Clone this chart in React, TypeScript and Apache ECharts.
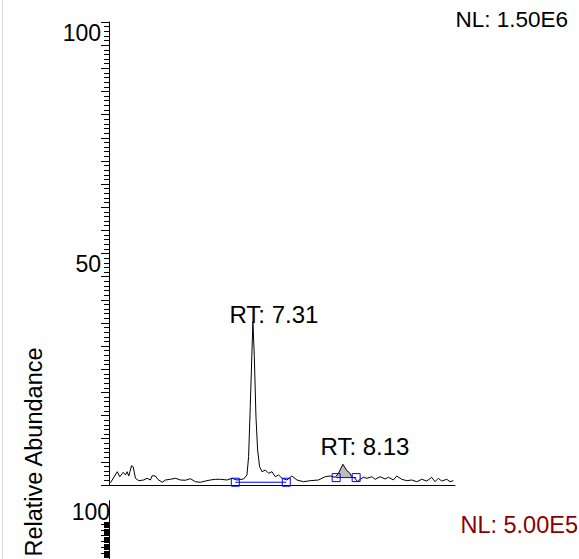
import React, { useEffect, useRef } from "react";
import * as echarts from "echarts";

// Retention-time window (min) and relative-abundance range (%)
const rtRange = [6.0, 9.15];
const abundanceRange = [0, 100];
const labelledTicks = [50, 100];

// Chromatogram trace: retention time (min) and relative abundance (%)
const retentionTimes = [
  6.014, 6.075, 6.098, 6.129, 6.15, 6.165, 6.18, 6.205, 6.22, 6.241, 6.271, 6.316, 6.347, 6.377,
  6.393, 6.423, 6.444, 6.484, 6.514, 6.559, 6.605, 6.65, 6.695, 6.741, 6.786, 6.832, 6.877, 6.923,
  6.968, 7.014, 7.075, 7.12, 7.165, 7.225, 7.256, 7.271, 7.286, 7.302, 7.31, 7.323, 7.338, 7.353,
  7.371, 7.393, 7.423, 7.453, 7.484, 7.514, 7.544, 7.575, 7.62, 7.665, 7.711, 7.771, 7.832, 7.907,
  7.968, 8.014, 8.059, 8.089, 8.13, 8.165, 8.189, 8.211, 8.241, 8.262, 8.286, 8.316, 8.347, 8.393,
  8.423, 8.468, 8.514, 8.544, 8.589, 8.62, 8.665, 8.711, 8.756, 8.802, 8.847, 8.893, 8.938, 8.968,
  8.998, 9.029, 9.075, 9.105, 9.135,
];
const relAbundance = [
  0.5, 2.87, 1.79, 2.74, 2.16, 2.87, 1.94, 4.17, 3.95, 1.45, 0.93, 1.08, 1.45, 1.08,
  2.01, 1.94, 1.23, 0.58, 1.08, 1.23, 1.45, 1.08, 1.02, 1.36, 0.71, 0.58, 0.86, 1.08,
  1.23, 1.23, 1.08, 1.45, 1.08, 1.3, 2.16, 6.11, 16.91, 29.16, 35.27, 27.71, 14.75, 7.56,
  3.95, 2.87, 3.24, 2.53, 2.87, 1.79, 2.16, 1.45, 1.08, 1.94, 1.08, 0.71, 0.93, 1.08,
  1.79, 1.94, 1.66, 2.53, 4.47, 3.09, 2.66, 1.79, 1.45, 0.71, 1.23, 1.66, 1.45, 1.79,
  1.23, 1.79, 1.3, 1.66, 1.08, 1.94, 1.23, 0.93, 1.08, 0.71, 1.23, 0.86, 1.66, 0.71,
  1.45, 0.86, 1.23, 0.71, 0.93,
];

// Detected peaks
const peakRT = [7.31, 8.13];
const peakApex = [35.27, 4.47];
const peakLabels = ["RT: 7.31", "RT: 8.13"];

// Integration baselines: start/end retention time and level of each peak
const integStartRT = [7.15, 8.068];
const integEndRT = [7.614, 8.25];
const integLevel = [0.6, 1.6];

// Shaded (integrated) region of the second peak
const shadedPeak = 1;
const shadedRange = [8.059, 8.211];

// Normalisation levels of the two panels
const nlTop = "NL: 1.50E6";
const nlBottom = "NL: 5.00E5";
const yTitle = "Relative Abundance";

const FONT = "'Liberation Sans', Arial, Helvetica, sans-serif";

function buildOption() {
  const trace = retentionTimes.map((t, i) => [t, relAbundance[i]]);

  // Polygon between the trace and the integration baseline
  const level = integLevel[shadedPeak];
  const inside = trace.filter(([t]) => t >= shadedRange[0] && t <= shadedRange[1]);
  const shadedPoly = [
    [shadedRange[0], level],
    ...inside,
    [shadedRange[1], level],
  ];

  const labelOffsets = [
    [21, -7],
    [22, -18],
  ];

  const yAxisCommon = {
    type: "value",
    min: abundanceRange[0],
    max: abundanceRange[1],
    interval: 5,
    position: "left",
    offset: 0,
    axisLine: { show: true, lineStyle: { color: "#000", width: 1 } },
    axisTick: { show: true, inside: false, length: 8, lineStyle: { color: "#000", width: 1 } },
    minorTick: { show: true, splitNumber: 5, length: 5, lineStyle: { color: "#000", width: 1 } },
    splitLine: { show: false },
    minorSplitLine: { show: false },
  };

  const labelStyle = {
    fontSize: 23,
    fontFamily: FONT,
    color: "#000",
    verticalAlign: "top",
    lineHeight: 21,
  };

  return {
    animation: false,
    backgroundColor: "#fff",
    grid: [
      { left: 109, top: 22, width: 346, height: 463 },
      { left: 109, top: 501, width: 346, height: 463 },
    ],
    xAxis: [
      {
        gridIndex: 0,
        type: "value",
        min: rtRange[0],
        max: rtRange[1],
        axisLine: { show: true, onZero: false, lineStyle: { color: "#000", width: 1 } },
        axisTick: { show: false },
        axisLabel: { show: false },
        splitLine: { show: false },
      },
      {
        gridIndex: 1,
        type: "value",
        min: rtRange[0],
        max: rtRange[1],
        show: false,
      },
    ],
    yAxis: [
      {
        ...yAxisCommon,
        gridIndex: 0,
        axisLabel: { ...labelStyle, margin: 8, customValues: labelledTicks },
      },
      {
        ...yAxisCommon,
        gridIndex: 1,
        axisLabel: {
          ...labelStyle,
          margin: -1,
          backgroundColor: "#fff",
          customValues: [abundanceRange[1]],
        },
      },
      // axis line of the lower panel, kept above its label
      {
        type: "value",
        gridIndex: 1,
        min: abundanceRange[0],
        max: abundanceRange[1],
        position: "left",
        offset: 0,
        z: 5,
        axisLine: { show: true, lineStyle: { color: "#000", width: 1 } },
        axisTick: { show: false },
        axisLabel: { show: false },
        splitLine: { show: false },
      },
    ],
    series: [
      {
        name: "shaded",
        type: "custom",
        xAxisIndex: 0,
        yAxisIndex: 0,
        data: [shadedPoly[0]],
        z: 1,
        silent: true,
        renderItem: (params: any, api: any) => ({
          type: "polygon",
          shape: { points: shadedPoly.map((p) => api.coord(p)) },
          style: { fill: "#bdbdbd", stroke: "none" },
        }),
      },
      {
        name: "trace",
        type: "line",
        data: trace,
        showSymbol: false,
        lineStyle: { color: "#000", width: 1 },
        z: 3,
        markPoint: {
          symbol: "rect",
          symbolSize: 1,
          itemStyle: { color: "rgba(0,0,0,0)" },
          label: {
            show: true,
            position: "inside",
            fontSize: 24,
            fontFamily: FONT,
            color: "#000",
          },
          data: peakRT.map((rt, i) => ({
            coord: [rt, peakApex[i]],
            value: peakLabels[i],
            label: { formatter: peakLabels[i], offset: labelOffsets[i] },
          })),
        },
      },
      ...peakRT.map((_, i) => ({
        name: "baseline" + i,
        type: "line",
        data: [
          [integStartRT[i], integLevel[i]],
          [integEndRT[i], integLevel[i]],
        ],
        showSymbol: true,
        symbol: "rect",
        symbolSize: 8,
        itemStyle: { color: "rgba(0,0,0,0)", borderColor: "#0000ff", borderWidth: 1 },
        lineStyle: { color: "#0000ff", width: 1 },
        z: 4,
      })),
    ],
    graphic: [
      {
        type: "line",
        shape: { x1: 2.5, y1: 0, x2: 2.5, y2: 559 },
        style: { stroke: "#dcdcdc", lineWidth: 1 },
      },
      {
        type: "text",
        x: 568,
        y: 19,
        style: {
          text: nlTop,
          fontSize: 22.5,
          fontFamily: FONT,
          fill: "#000",
          align: "right",
          verticalAlign: "middle",
        },
      },
      {
        type: "text",
        x: 578,
        y: 525,
        style: {
          text: nlBottom,
          fontSize: 23.5,
          fontFamily: FONT,
          fill: "#8b0000",
          align: "right",
          verticalAlign: "middle",
        },
      },
      {
        type: "text",
        x: 34,
        y: 452,
        rotation: Math.PI / 2,
        style: {
          text: yTitle,
          fontSize: 23.5,
          fontFamily: FONT,
          fill: "#000",
          align: "center",
          verticalAlign: "middle",
        },
      },
    ],
  };
}

export default function App() {
  const ref = useRef<HTMLDivElement>(null);

  useEffect(() => {
    if (!ref.current) return;
    const chart = echarts.init(ref.current, undefined, { renderer: "svg" });
    chart.setOption(buildOption() as any);
    return () => chart.dispose();
  }, []);

  return (
    <div
      ref={ref}
      style={{ position: "fixed", left: 0, top: 0, width: 579, height: 559, background: "#fff" }}
    />
  );
}
